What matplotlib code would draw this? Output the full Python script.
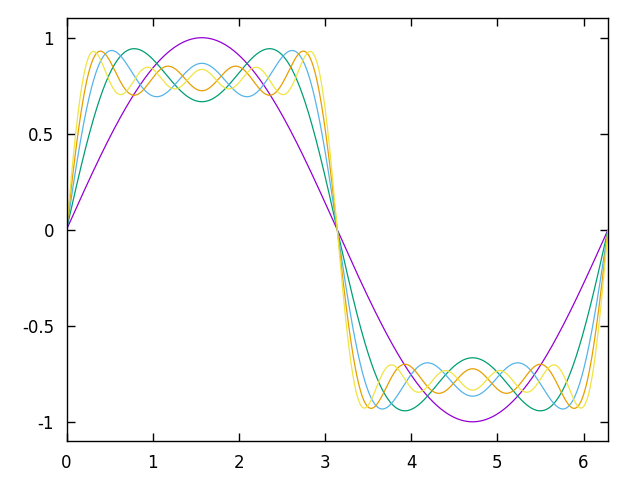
import matplotlib
matplotlib.use('Agg')
import matplotlib.pyplot as plt
import numpy as np

# partial sums of the square wave series: sum of sin(k x)/k over odd k
harmonics = [1, 3, 5, 7, 9]
amplitudes = [1.0, 1.0 / 3, 1.0 / 5, 1.0 / 7, 1.0 / 9]
colors = ['#9400d3', '#009e73', '#56b4e9', '#e69f00', '#f0e442']

x_ticks = [0, 1, 2, 3, 4, 5, 6]
y_ticks = [-1, -0.5, 0, 0.5, 1]
y_labels = ['-1', '-0.5', '0', '0.5', '1']

x = np.linspace(0, 2 * np.pi, 1000)

fig = plt.figure(figsize=(6.4, 4.8), dpi=100)
ax = fig.add_axes([66.5 / 640, 1 - 441 / 480, (608 - 66.5) / 640, (441 - 18.5) / 480])

y = np.zeros_like(x)
for k, a, c in zip(harmonics, amplitudes, colors):
    y = y + a * np.sin(k * x)
    ax.plot(x, y, color=c, linewidth=0.9)

ax.set_xlim(0, 2 * np.pi)
ax.set_ylim(-1.1, 1.1)
ax.set_xticks(x_ticks)
ax.set_yticks(y_ticks)
ax.set_yticklabels(y_labels)
ax.tick_params(direction='in', length=6, width=1, top=True, right=True, labelsize=12, pad=9)
for s in ax.spines.values():
    s.set_linewidth(1)

fig.savefig('out.png', dpi=100)
